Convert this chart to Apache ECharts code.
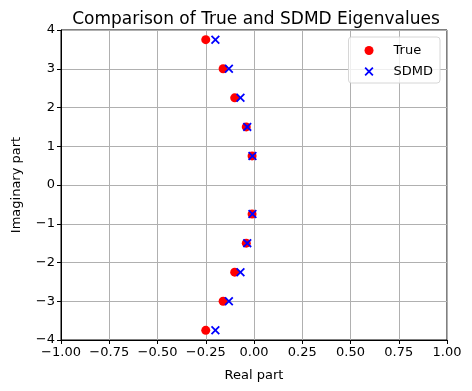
<!DOCTYPE html>
<html>
<head>
<meta charset="utf-8">
<script src="https://cdn.jsdelivr.net/npm/echarts@6/dist/echarts.min.js"></script>
<style>
  html, body { margin: 0; padding: 0; background: #fff; }
  #chart { width: 472px; height: 391px; }
</style>
</head>
<body>
<div id="chart"></div>
<script>
  // eigenvalues (real, imag)
  const trueReal = [-0.25, -0.16, -0.10, -0.04, -0.01, -0.01, -0.04, -0.10, -0.16, -0.25]
  const trueImag = [3.75, 3.0, 2.25, 1.5, 0.75, -0.75, -1.5, -2.25, -3.0, -3.75]
  const sdmdReal = [-0.20, -0.13, -0.07, -0.035, -0.008, -0.008, -0.035, -0.07, -0.13, -0.20]
  const sdmdImag = [3.75, 3.0, 2.25, 1.5, 0.75, -0.75, -1.5, -2.25, -3.0, -3.75]

  const xMarker = 'path://M0,1.4L1.4,0L5,3.6L8.6,0L10,1.4L6.4,5L10,8.6L8.6,10L5,6.4L1.4,10L0,8.6L3.6,5Z'
  const font = 'DejaVu Sans'
  const minus = s => String(s).replace('-', '\u2212')

  let myChart = echarts.init(document.getElementById('chart'))
  myChart.setOption({
    animation: false,
    title: {
      text: 'Comparison of True and SDMD Eigenvalues',
      left: 251, top: 6, textAlign: 'center',
      textStyle: { fontFamily: font, fontSize: 17, fontWeight: 'normal', color: '#000' }
    },
    legend: {
      orient: 'vertical',
      right: 32, top: 37,
      padding: [7, 7, 5, 16],
      itemGap: 8,
      itemWidth: 9, itemHeight: 9,
      borderColor: '#d6d6d6', borderWidth: 1, borderRadius: 3,
      backgroundColor: 'rgba(255,255,255,0.8)',
      textStyle: { fontFamily: font, fontSize: 13, color: '#000', padding: [0, 0, 0, 15] },
      data: ['True', 'SDMD']
    },
    grid: {
      left: 61, right: 25, top: 30, bottom: 51,
      show: true, borderColor: '#000', borderWidth: 1
    },
    xAxis: {
      type: 'value', min: -1, max: 1, interval: 0.25,
      name: 'Real part', nameLocation: 'middle', nameGap: 29,
      nameTextStyle: { fontFamily: font, fontSize: 13, color: '#000' },
      axisLine: { show: true, onZero: false, lineStyle: { color: '#000' } },
      axisTick: { show: true, length: 4, lineStyle: { color: '#000' } },
      axisLabel: { fontFamily: font, fontSize: 13, color: '#000', margin: 6, formatter: v => minus(v.toFixed(2)) },
      splitLine: { show: true, lineStyle: { color: '#b0b0b0', width: 1 } }
    },
    yAxis: {
      type: 'value', min: -4, max: 4, interval: 1,
      name: 'Imaginary part', nameLocation: 'middle', nameGap: 38,
      nameTextStyle: { fontFamily: font, fontSize: 13, color: '#000' },
      axisLine: { show: true, onZero: false, lineStyle: { color: '#000' } },
      axisTick: { show: true, length: 4, lineStyle: { color: '#000' } },
      axisLabel: { fontFamily: font, fontSize: 13, color: '#000', margin: 6, formatter: v => minus(v) },
      splitLine: { show: true, lineStyle: { color: '#b0b0b0', width: 1 } }
    },
    series: [
      {
        name: 'True', type: 'scatter', symbol: 'circle', symbolSize: 9,
        itemStyle: { color: '#ff0000', opacity: 1 },
        data: trueReal.map((x, i) => [x, trueImag[i]])
      },
      {
        name: 'SDMD', type: 'scatter', symbol: xMarker, symbolSize: 9,
        itemStyle: { color: '#0000ff', opacity: 1 },
        data: sdmdReal.map((x, i) => [x, sdmdImag[i]])
      }
    ]
  })
</script>
</body>
</html>
